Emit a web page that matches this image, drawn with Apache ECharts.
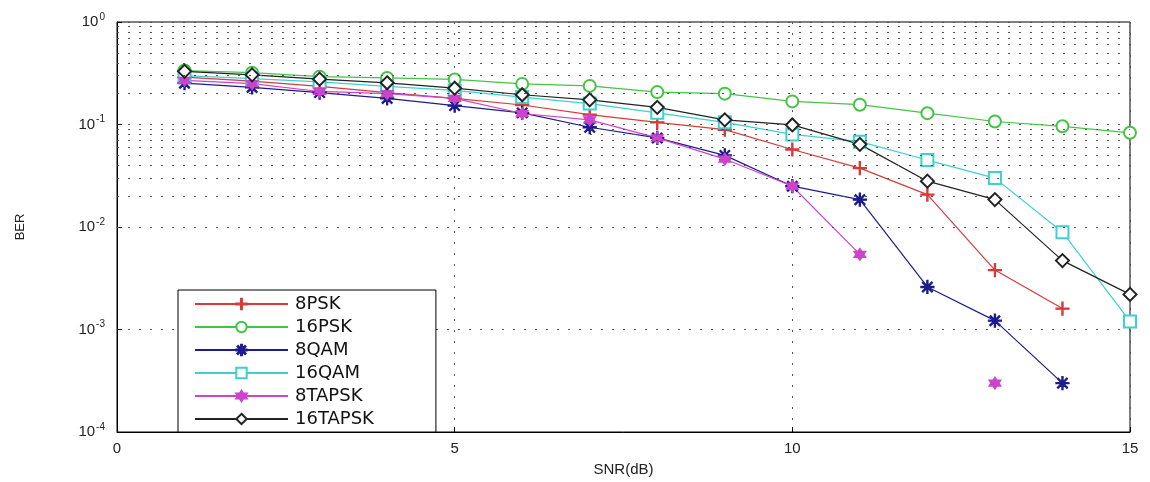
<!DOCTYPE html>
<html>
<head>
<meta charset="utf-8">
<script src="https://cdn.jsdelivr.net/npm/echarts@6/dist/echarts.min.js"></script>
<style>
  html, body { margin: 0; padding: 0; background: #fff; }
  #main { width: 1150px; height: 482px; }
</style>
</head>
<body>
<div id="main"></div>
<script>
// values
const snr = [1, 2, 3, 4, 5, 6, 7, 8, 9, 10, 11, 12, 13, 14, 15];
const psk8 = [0.29, 0.265, 0.235, 0.205, 0.18, 0.155, 0.125, 0.105, 0.089, 0.057, 0.0375, 0.0207, 0.0038, 0.0016];
const psk16 = [0.336, 0.32, 0.293, 0.285, 0.275, 0.249, 0.238, 0.207, 0.2, 0.168, 0.156, 0.129, 0.107, 0.096, 0.083];
const qam8 = [0.253, 0.23, 0.205, 0.18, 0.153, 0.13, 0.094, 0.074, 0.05, 0.025, 0.0185, 0.0026, 0.00122, 0.0003];
const qam16 = [0.30, 0.28, 0.26, 0.235, 0.215, 0.185, 0.16, 0.13, 0.105, 0.08, 0.068, 0.045, 0.03, 0.0089, 0.0012];
const tapsk8 = [0.27, 0.25, 0.21, 0.2, 0.18, 0.128, 0.111, 0.074, 0.046, 0.025, 0.0054, null, 0.0003];
const tapsk16 = [0.33, 0.305, 0.277, 0.255, 0.226, 0.195, 0.174, 0.147, 0.111, 0.099, 0.064, 0.028, 0.0185, 0.0047, 0.0022];
const xTicks = [0, 5, 10, 15];
const decades = [1e-4, 1e-3, 1e-2, 1e-1, 1];

// minor grid lines 2..9 of each decade
const minorLines = [];
decades.slice(0, -1).forEach(d => {
  for (let k = 2; k <= 9; k++) minorLines.push({ yAxis: d * k });
});

const plusPath = 'path://M5,0h1v5h5v1h-5v5h-1v-5h-5v-1h5z';
const starPath = 'path://M5,0h1v11h-1z M0,5h11v1h-11z M1.2,1.9l0.7,-0.7l8,8l-0.7,0.7z M9.1,1.2l0.7,0.7l-8,8l-0.7,-0.7z';
const hexPath = 'path://M5.5,0L10.3,8.25L0.7,8.25Z M5.5,11L0.7,2.75L10.3,2.75Z';

function pairs(ys) {
  return ys.map((v, i) => [snr[i], v]);
}

function mk(name, ys, color, symbol, size) {
  return {
    name: name,
    type: 'line',
    data: pairs(ys),
    symbol: symbol,
    symbolSize: size,
    showAllSymbol: true,
    connectNulls: false,
    lineStyle: { color: color, width: 1.2 },
    itemStyle: { color: color, borderColor: color, borderWidth: 1.2 },
    emphasis: { disabled: true },
    z: 3
  };
}

const dotted = { color: '#555', width: 1, type: [2, 9] };

const option = {
  animation: false,
  backgroundColor: '#fff',
  textStyle: { fontFamily: 'Liberation Sans, Arial, sans-serif' },
  grid: {
    left: 117, right: 20, top: 22, bottom: 49,
    show: true, borderColor: '#000', borderWidth: 1, backgroundColor: '#fff'
  },
  legend: {
    data: ['8PSK', '16PSK', '8QAM', '16QAM', '8TAPSK', '16TAPSK'],
    orient: 'vertical',
    left: 178,
    top: 290,
    itemWidth: 93,
    itemHeight: 13,
    itemGap: 5,
    padding: [5, 62, 4, 16],
    borderColor: '#000',
    borderWidth: 1,
    backgroundColor: '#fff',
    textStyle: { fontSize: 18, color: '#111', fontFamily: 'DejaVu Sans, sans-serif', padding: [0, 0, 0, 2] },
    selectedMode: false
  },
  xAxis: {
    type: 'value',
    min: 0, max: 15, interval: 5,
    name: 'SNR(dB)',
    nameLocation: 'middle',
    nameGap: 30,
    nameTextStyle: { fontSize: 15, color: '#222' },
    axisLine: { show: true, lineStyle: { color: '#000' } },
    axisTick: { inside: true, length: 5, lineStyle: { color: '#000' } },
    axisLabel: { fontSize: 15, color: '#222', margin: 9, formatter: v => xTicks.includes(v) ? String(v) : '' },
    splitLine: { show: true, lineStyle: dotted }
  },
  yAxis: {
    type: 'log',
    logBase: 10,
    min: 1e-4, max: 1,
    name: 'BER',
    nameLocation: 'middle',
    nameGap: 90,
    nameRotate: 90,
    nameTextStyle: { fontSize: 13, color: '#222' },
    axisLine: { show: true, lineStyle: { color: '#000' } },
    axisTick: { inside: true, length: 5, lineStyle: { color: '#000' } },
    axisLabel: {
      margin: 12,
      formatter: function (v) {
        const e = Math.round(Math.log10(v));
        return '{b|10}{s|' + e + '}';
      },
      rich: {
        b: { fontSize: 15, color: '#222', fontFamily: 'Liberation Sans, Arial, sans-serif' },
        s: { fontSize: 10, color: '#222', padding: [0, 0, 10, 1], fontFamily: 'Liberation Sans, Arial, sans-serif' }
      }
    },
    splitLine: { show: true, lineStyle: dotted }
  },
  series: [
    {
      name: 'grid',
      type: 'line',
      data: [],
      silent: true,
      z: 1,
      markLine: {
        silent: true,
        symbol: ['none', 'none'],
        label: { show: false },
        lineStyle: dotted,
        animation: false,
        data: minorLines
      }
    },
    mk('8PSK', psk8, '#d83a3a', plusPath, 13),
    mk('16PSK', psk16, '#44c444', 'emptyCircle', 12),
    mk('8QAM', qam8, '#1c1c8c', starPath, 13),
    mk('16QAM', qam16, '#3cd0d0', 'emptyRect', 12),
    mk('8TAPSK', tapsk8, '#cc44cc', hexPath, 12),
    mk('16TAPSK', tapsk16, '#222222', 'emptyDiamond', 13)
  ]
};

const chart = echarts.init(document.getElementById('main'));
chart.setOption(option);
</script>
</body>
</html>
